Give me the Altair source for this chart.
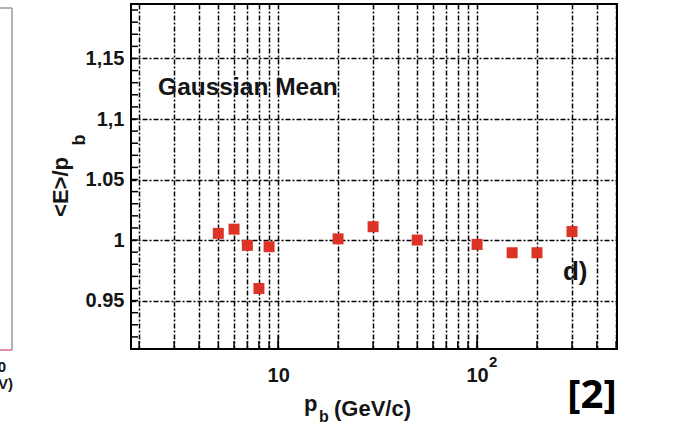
import altair as alt
import pandas as pd

# ---- data ----
p_b = [5, 6, 7, 8, 9, 20, 30, 50, 100, 150, 200, 300]
gauss_mean = [1.0055, 1.009, 0.9956, 0.960, 0.9945, 1.001, 1.011, 1.000, 0.9964, 0.9895, 0.9895, 1.007]

x_grid = [2, 3, 4, 5, 6, 7, 8, 9, 10, 20, 30, 40, 50, 60, 70, 80, 90, 100, 200, 300, 400, 500]
x_major = [10, 100]
y_grid = [0.95, 1.0, 1.05, 1.1, 1.15]
y_labels = ["0.95", "1", "1.05", "1,1", "1,15"]
y_minor = [0.92, 0.93, 0.94, 0.95, 0.96, 0.97, 0.98, 0.99, 1.00, 1.01, 1.02, 1.03, 1.04,
           1.05, 1.06, 1.07, 1.08, 1.09, 1.10, 1.11, 1.12, 1.13, 1.14, 1.15, 1.16, 1.17,
           1.18, 1.19]

label_text = ["Gaussian Mean"]
panel_text = ["d)"]
ref_text = ["[2]"]
y_title = ["<E>/p"]
x_title = ["(GeV/c)"]
sub_b = ["b"]

W, H = 486, 345
RED = "#dd3327"
FONT = "Liberation Sans"
INK = "#151515"

xscale = alt.Scale(type="log", domain=[1.82, 505], nice=False)
yscale = alt.Scale(domain=[0.91, 1.195], nice=False, zero=False)

ylab_expr = " : ".join(
    f"abs(datum.value-{v})<0.001 ? '{t}'" for v, t in zip(y_grid, y_labels)) + " : ''"

df = pd.DataFrame({"p": p_b, "m": gauss_mean})

GRID = dict(grid=True, gridDash=[5, 2, 2, 2], gridColor="black", gridWidth=1.5, gridOpacity=1)

points = alt.Chart(df).mark_square(size=121, color=RED, opacity=1).encode(
    x=alt.X("p:Q", scale=xscale, title=None, axis=alt.Axis(
        values=x_grid, ticks=False, domain=False, title=None,
        labelExpr="(datum.value == 10 || datum.value == 100) ? '10' : ''",
        labelFontSize=20, labelFont=FONT, labelFontWeight="bold", labelColor=INK,
        labelPadding=16, labelFlush=False, labelOverlap=False, **GRID)),
    y=alt.Y("m:Q", scale=yscale, title=None, axis=alt.Axis(
        values=y_grid, ticks=False, domain=False, title=None,
        labelExpr=ylab_expr,
        labelFontSize=20, labelFont=FONT, labelFontWeight="bold", labelColor=INK,
        labelPadding=7, labelOverlap=False, **GRID)),
)

yt = alt.Chart(pd.DataFrame({"y": y_minor})).mark_rule(color="black", strokeWidth=1.5).encode(
    y=alt.Y("y:Q", scale=yscale, title=None), x=alt.value(0), x2=alt.value(7))

xt = alt.Chart(pd.DataFrame({"x": x_grid})).mark_rule(color="black", strokeWidth=1.5).encode(
    x=alt.X("x:Q", scale=xscale, title=None), y=alt.value(H), y2=alt.value(H - 8))

xtm = alt.Chart(pd.DataFrame({"x": x_major})).mark_rule(color="black", strokeWidth=1.5).encode(
    x=alt.X("x:Q", scale=xscale, title=None), y=alt.value(H), y2=alt.value(H - 14))

gm = alt.Chart(pd.DataFrame({"t": label_text, "x": [2.49], "y": [1.1256]})).mark_text(
    align="left", baseline="middle", fontSize=24.5, font=FONT, fontWeight="bold", color=INK).encode(
    x=alt.X("x:Q", scale=xscale, title=None), y=alt.Y("y:Q", scale=yscale, title=None), text="t:N")

dlab = alt.Chart(pd.DataFrame({"t": panel_text, "x": [270], "y": [0.9736]})).mark_text(
    align="left", baseline="middle", fontSize=26, font=FONT, fontWeight="bold", color=INK).encode(
    x=alt.X("x:Q", scale=xscale, title=None), y=alt.Y("y:Q", scale=yscale, title=None), text="t:N")

sup2 = alt.Chart(pd.DataFrame({"t": ["2"], "x2": [100]})).mark_text(
    align="left", baseline="alphabetic", fontSize=15, font=FONT, fontWeight="bold", color=INK,
    dx=12).encode(x=alt.X("x2:Q", scale=xscale, title=None), y=alt.value(363), text="t:N")

ytitle = alt.Chart(pd.DataFrame({"t": y_title})).mark_text(
    align="center", baseline="alphabetic", angle=270, fontSize=22, font=FONT, fontWeight="bold",
    color=INK).encode(x=alt.value(-63), y=alt.value(183), text="t:N")

ysub = alt.Chart(pd.DataFrame({"t": sub_b})).mark_text(
    align="center", baseline="alphabetic", angle=270, fontSize=18, font=FONT, fontWeight="bold",
    color=INK).encode(x=alt.value(-46), y=alt.value(136), text="t:N")

xtitle_p = alt.Chart(pd.DataFrame({"t": ["p"]})).mark_text(
    align="left", baseline="alphabetic", fontSize=22, font=FONT, fontWeight="bold", color=INK).encode(
    x=alt.value(304 - 131), y=alt.value(411 - 4), text="t:N")

xtitle_b = alt.Chart(pd.DataFrame({"t": sub_b})).mark_text(
    align="left", baseline="alphabetic", fontSize=16, font=FONT, fontWeight="bold", color=INK).encode(
    x=alt.value(319 - 131), y=alt.value(422 - 4), text="t:N")

xtitle = alt.Chart(pd.DataFrame({"t": x_title})).mark_text(
    align="left", baseline="alphabetic", fontSize=22, font=FONT, fontWeight="bold", color=INK).encode(
    x=alt.value(334 - 131), y=alt.value(416 - 4), text="t:N")

ref = alt.Chart(pd.DataFrame({"t": ref_text})).mark_text(
    align="center", baseline="alphabetic", fontSize=40, font="Open Sans", fontWeight="bold",
    color="black").encode(x=alt.value(592 - 131), y=alt.value(408 - 4), text="t:N")

# residue of the neighbouring panel at the left edge
left_line = alt.Chart(pd.DataFrame({"t": ["a"]})).mark_rule(color="#999999", strokeWidth=1.5).encode(
    x=alt.value(12 - 131), y=alt.value(8 - 4), y2=alt.value(350 - 4))
left_top = alt.Chart(pd.DataFrame({"t": ["a"]})).mark_rule(color="#999999", strokeWidth=1.5).encode(
    x=alt.value(-131), x2=alt.value(12 - 131), y=alt.value(8 - 4))
left_bot = alt.Chart(pd.DataFrame({"t": ["a"]})).mark_rule(color="#d04060", strokeWidth=1.2).encode(
    x=alt.value(-131), x2=alt.value(12 - 131), y=alt.value(350 - 4))
left_txt0 = alt.Chart(pd.DataFrame({"t": ["0"]})).mark_text(
    align="right", baseline="alphabetic", fontSize=15, font=FONT, fontWeight="bold", color=INK).encode(
    x=alt.value(6 - 131), y=alt.value(372 - 4), text="t:N")
left_txt1 = alt.Chart(pd.DataFrame({"t": ["V)"]})).mark_text(
    align="right", baseline="alphabetic", fontSize=15, font=FONT, fontWeight="bold", color=INK).encode(
    x=alt.value(13 - 131), y=alt.value(389 - 4), text="t:N")

chart = alt.layer(
    points, yt, xt, xtm, gm, dlab, sup2, ytitle, ysub, xtitle_p, xtitle_b, xtitle, ref,
    left_line, left_top, left_bot, left_txt0, left_txt1
).properties(
    width=W, height=H,
    background="white",
    autosize=alt.AutoSizeParams(type="none"),
    padding={"left": 131, "top": 4, "right": 57, "bottom": 80},
).configure_view(stroke="black", strokeWidth=2)

chart.save("out.html", embed_options={"renderer": "svg", "actions": False})
